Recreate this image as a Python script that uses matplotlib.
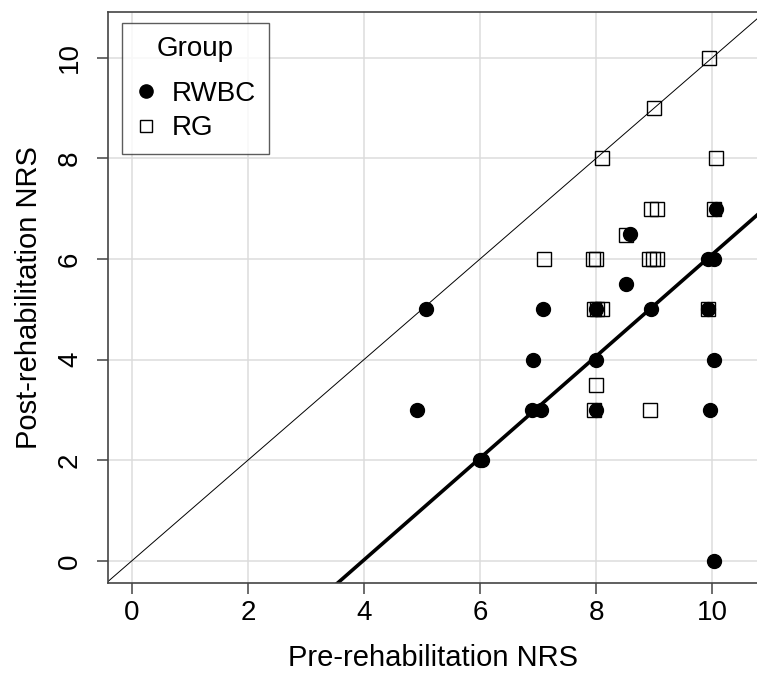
import matplotlib
matplotlib.use("Agg")
import matplotlib.pyplot as plt
import numpy as np

plt.rcParams['font.family'] = ['Liberation Sans', 'DejaVu Sans']

# RWBC group (filled circles), jittered pre/post NRS
rwbc_pre = [5.07, 4.92, 7.08, 6.91, 6.90, 7.05, 6.00, 6.03, 10.07, 8.59, 9.93, 10.03,
            8.52, 7.99, 8.95, 9.93, 8.00, 10.04, 8.00, 9.97, 10.03]
rwbc_post = [5.0, 3.0, 5.0, 4.0, 3.0, 3.0, 2.0, 2.0, 7.0, 6.5, 6.0, 6.0,
             5.5, 5.0, 5.0, 5.0, 4.0, 4.0, 3.0, 3.0, 0.0]

# RG group (open squares)
rg_pre = [8.10, 9.00, 9.94, 10.06, 10.03, 8.95, 9.05, 8.52, 7.95, 7.99, 8.91, 8.98,
          9.05, 7.10, 7.96, 8.02, 8.10, 9.93, 7.99, 7.97, 8.93]
rg_post = [8.0, 9.0, 10.0, 8.0, 7.0, 7.0, 7.0, 6.48, 6.0, 6.0, 6.0, 6.0,
           6.0, 6.0, 5.0, 5.0, 5.0, 5.0, 3.5, 3.0, 3.0]

# reference lines: identity and fitted line (intercept, slope)
identity_coef = (0.0, 1.0)
fit_coef = (-4.03, 1.012)

ticks = [0, 2, 4, 6, 8, 10]

fig = plt.figure(figsize=(7.57, 6.73), dpi=100)
ax = fig.add_axes([108/757, 1 - 583/673, 650/757, (583 - 12)/673])

xlim = (-0.41, 10.79)
ylim = (-0.44, 10.91)
ax.set_xlim(*xlim)
ax.set_ylim(*ylim)

ax.set_xticks(ticks)
ax.set_yticks(ticks)
ax.grid(True, color='#dcdcdc', linewidth=1.1)
ax.set_axisbelow(True)

xs = np.array(xlim)
ax.plot(xs, identity_coef[0] + identity_coef[1] * xs, color='black', lw=0.7, zorder=2)
ax.plot(xs, fit_coef[0] + fit_coef[1] * xs, color='black', lw=2.6, zorder=2)

h_rg, = ax.plot(rg_pre, rg_post, linestyle='none', marker='s', markersize=9.6,
                markerfacecolor='none', markeredgecolor='black', markeredgewidth=1.0,
                zorder=3, label='RG')
h_rw, = ax.plot(rwbc_pre, rwbc_post, linestyle='none', marker='o', markersize=10,
                color='black', zorder=4, label='RWBC')

for s in ax.spines.values():
    s.set_color('#444444')
    s.set_linewidth(1.2)

ax.tick_params(axis='both', direction='out', length=8, width=1.1, color='#444444',
               labelsize=20)
ax.tick_params(axis='x', pad=4)
ax.tick_params(axis='y', pad=10, labelrotation=90)
for lab in ax.get_yticklabels():
    lab.set_va('center')

ax.set_xlabel('Pre-rehabilitation NRS', fontsize=21, labelpad=13)
ax.set_ylabel('Post-rehabilitation NRS', fontsize=21, labelpad=10)

leg = ax.legend(handles=[h_rw, h_rg], title='Group', loc='upper left',
                bbox_to_anchor=(14/650, (583 - 23)/571), borderaxespad=0,
                fontsize=20, title_fontsize=20, frameon=True, fancybox=False,
                handlelength=0.8, handletextpad=0.55, borderpad=0.45,
                labelspacing=0.3, markerscale=0.95)
leg.get_frame().set_edgecolor('#333333')
leg.get_frame().set_linewidth(1.0)
leg._legend_box.sep = 14

fig.savefig('out.png', dpi=100)
